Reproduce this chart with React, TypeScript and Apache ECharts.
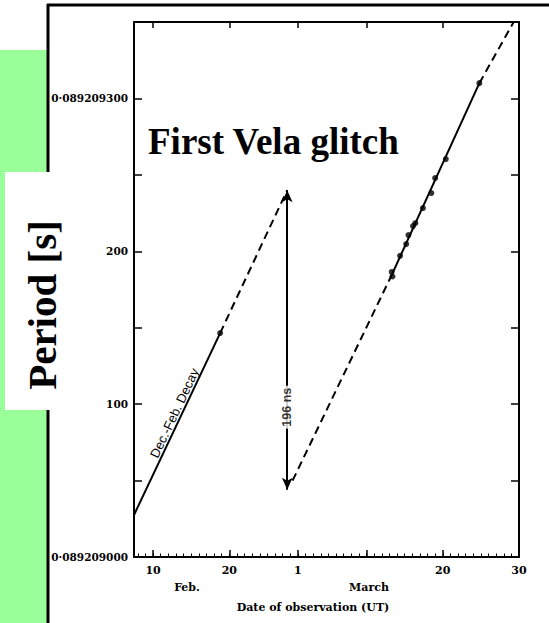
import React, { useEffect, useRef } from 'react';
import * as echarts from 'echarts';

// Time axis: days counted from 0 Feb 1969 (1 March = day 29).
const dayMin = 7.5;
const dayMax = 58;
const dayMajorTicks = [10, 20, 29, 38, 48];
const dayMinorTicks = Array.from({ length: 50 }, (_, i) => 8 + i);
const dayLabelValues = [10, 20, 29, 48, 58];
const dayLabelTexts = ['10', '20', '1', '20', '30'];

// Period axis: ns above 0.089209000 s.
const periodMin = 0;
const periodMax = 350;
const periodTickValues = [50, 100, 150, 200, 250, 300];
const periodLabelValues = [0, 100, 200, 300];
const periodLabelTexts = ['0·089209000', '100', '200', '0·089209300'];

// Observations [day, ns]
const preGlitchObs = [[18.8, 146.5]];
const postGlitchObs = [
  [41.3, 186.5],
  [41.4, 183.5],
  [42.4, 197],
  [43.2, 204.7],
  [43.5, 210.6],
  [44.1, 216.5],
  [44.4, 218.4],
  [45.4, 228.3],
  [46.5, 238.1],
  [47.0, 247.9],
  [48.4, 260.3],
  [52.8, 310],
];

// Fitted spin-down lines
const decaySolid = [[7.5, 27.5], [18.8, 146.5]];
const decayDashed = [[18.8, 146.5], [27.6, 240]];
const recoveryDashedLow = [[28.3, 50], [41.35, 185]];
const recoverySolid = [[41.35, 185], [52.8, 310]];
const recoveryDashedHigh = [[52.8, 310], [57.3, 350]];

// Glitch step
const glitchDay = 27.6;
const glitchTop = 240;
const glitchDrop = 196;
const glitchLabelAt = 98;

const FONT_SERIF = "'DejaVu Serif', serif";
const FONT_TIMES = "'Liberation Serif', 'Times New Roman', serif";
const FONT_SANS = "'Liberation Sans', Arial, sans-serif";

const dash = [8, 5];

function fitLine(data: number[][], dashed: boolean) {
  return {
    type: 'line',
    data,
    showSymbol: false,
    silent: true,
    z: 3,
    lineStyle: { color: '#000', width: 2, type: dashed ? dash : 'solid' },
  };
}

export default function App() {
  const ref = useRef<HTMLDivElement>(null);

  useEffect(() => {
    if (!ref.current) return;
    const chart = echarts.init(ref.current, null, { renderer: 'svg' });

    const dayLabel = (v: number) => {
      const i = dayLabelValues.indexOf(Math.round(v));
      return i >= 0 ? dayLabelTexts[i] : '';
    };
    const periodLabel = (v: number) => {
      const i = periodLabelValues.indexOf(Math.round(v));
      return i >= 0 ? periodLabelTexts[i] : '';
    };

    chart.setOption({
      animation: false,
      backgroundColor: '#fff',
      grid: { left: 134, right: 30, top: 22, bottom: 66, containLabel: false },
      xAxis: [
        {
          type: 'value',
          position: 'bottom',
          min: dayMin,
          max: dayMax,
          axisLine: { show: true, lineStyle: { color: '#000', width: 2 } },
          axisTick: {
            show: true,
            inside: true,
            length: 7,
            customValues: dayMajorTicks,
            lineStyle: { color: '#000', width: 1.5 },
          },
          axisLabel: {
            show: true,
            customValues: dayLabelValues,
            formatter: dayLabel,
            color: '#000',
            fontFamily: FONT_SERIF,
            fontWeight: 'bold',
            fontSize: 11,
            margin: 8,
          },
          splitLine: { show: false },
        },
        {
          type: 'value',
          position: 'bottom',
          min: dayMin,
          max: dayMax,
          axisLine: { show: false },
          axisTick: {
            show: true,
            inside: true,
            length: 3.5,
            customValues: dayMinorTicks,
            lineStyle: { color: '#000', width: 1 },
          },
          axisLabel: { show: false },
          splitLine: { show: false },
        },
        {
          type: 'value',
          position: 'top',
          min: dayMin,
          max: dayMax,
          axisLine: { show: true, lineStyle: { color: '#000', width: 2 } },
          axisTick: {
            show: true,
            inside: true,
            length: 6,
            customValues: dayMajorTicks,
            lineStyle: { color: '#000', width: 1.5 },
          },
          axisLabel: { show: false },
          splitLine: { show: false },
        },
      ],
      yAxis: [
        {
          type: 'value',
          position: 'left',
          min: periodMin,
          max: periodMax,
          axisLine: { show: true, lineStyle: { color: '#000', width: 2 } },
          axisTick: {
            show: true,
            inside: true,
            length: 8,
            customValues: periodTickValues,
            lineStyle: { color: '#000', width: 1.5 },
          },
          axisLabel: {
            show: true,
            customValues: periodLabelValues,
            formatter: periodLabel,
            color: '#000',
            fontFamily: FONT_SERIF,
            fontWeight: 'bold',
            fontSize: 10.5,
            margin: 6,
          },
          splitLine: { show: false },
        },
        {
          type: 'value',
          position: 'right',
          min: periodMin,
          max: periodMax,
          axisLine: { show: true, lineStyle: { color: '#000', width: 2 } },
          axisTick: {
            show: true,
            inside: true,
            length: 8,
            customValues: periodTickValues,
            lineStyle: { color: '#000', width: 1.5 },
          },
          axisLabel: { show: false },
          splitLine: { show: false },
        },
      ],
      series: [
        fitLine(decaySolid, false),
        fitLine(decayDashed, true),
        fitLine(recoveryDashedLow, true),
        fitLine(recoverySolid, false),
        fitLine(recoveryDashedHigh, true),
        {
          type: 'scatter',
          data: [...preGlitchObs, ...postGlitchObs],
          symbol: 'circle',
          symbolSize: 6,
          itemStyle: { color: '#000' },
          silent: true,
          z: 4,
        },
        {
          type: 'scatter',
          data: [[glitchDay, glitchTop]],
          symbolSize: 1,
          itemStyle: { color: 'rgba(0,0,0,0)' },
          silent: true,
          z: 2,
          markLine: {
            silent: true,
            symbol: ['arrow', 'arrow'],
            symbolSize: [8, 12],
            label: { show: false },
            lineStyle: { color: '#000', width: 2, type: 'solid' },
            emphasis: { disabled: true },
            data: [
              [
                { coord: [glitchDay, glitchTop] },
                { coord: [glitchDay, glitchTop - glitchDrop] },
              ],
            ],
          },
        },
        {
          type: 'scatter',
          data: [[glitchDay, glitchLabelAt]],
          symbolSize: 1,
          itemStyle: { color: 'rgba(0,0,0,0)' },
          silent: true,
          z: 10,
          label: {
            show: true,
            position: 'inside',
            rotate: 90,
            formatter: `${glitchDrop} ns`,
            color: '#000',
            fontFamily: FONT_SANS,
            fontWeight: 'bold',
            fontSize: 12.5,
            backgroundColor: '#fff',
            padding: [0, 2],
          },
        },
      ],
      graphic: [
        {
          type: 'rect',
          z: 0,
          silent: true,
          shape: { x: 0, y: 50, width: 47, height: 573 },
          style: { fill: '#99ff99' },
        },
        {
          type: 'line',
          z: 1,
          silent: true,
          shape: { x1: 47, y1: 5, x2: 549, y2: 5 },
          style: { stroke: '#000', lineWidth: 3 },
        },
        {
          type: 'line',
          z: 1,
          silent: true,
          shape: { x1: 48, y1: 4, x2: 48, y2: 623 },
          style: { stroke: '#000', lineWidth: 3 },
        },
        {
          type: 'rect',
          z: 2,
          silent: true,
          shape: { x: 5, y: 172, width: 46, height: 238 },
          style: { fill: '#fff' },
        },
        {
          type: 'text',
          z: 3,
          silent: true,
          x: 42,
          y: 305,
          rotation: Math.PI / 2,
          style: {
            text: 'Period [s]',
            fontFamily: FONT_TIMES,
            fontWeight: 'bold',
            fontSize: 41,
            fill: '#000',
            align: 'center',
            verticalAlign: 'middle',
          },
        },
        {
          type: 'text',
          z: 20,
          silent: true,
          x: 148,
          y: 141,
          style: {
            text: 'First Vela glitch',
            fontFamily: FONT_TIMES,
            fontWeight: 'bold',
            fontSize: 37,
            fill: '#000',
            align: 'left',
            verticalAlign: 'middle',
          },
        },
        {
          type: 'text',
          z: 20,
          silent: true,
          x: 174.5,
          y: 413,
          rotation: Math.atan2(182, 86),
          style: {
            text: 'Dec.-Feb. Decay',
            fontFamily: FONT_SANS,
            fontSize: 13,
            fill: '#000',
            align: 'center',
            verticalAlign: 'middle',
          },
        },
        {
          type: 'text',
          z: 20,
          silent: true,
          x: 187,
          y: 587,
          style: {
            text: 'Feb.',
            fontFamily: FONT_SERIF,
            fontWeight: 'bold',
            fontSize: 11,
            fill: '#000',
            align: 'center',
            verticalAlign: 'middle',
          },
        },
        {
          type: 'text',
          z: 20,
          silent: true,
          x: 369,
          y: 587,
          style: {
            text: 'March',
            fontFamily: FONT_SERIF,
            fontWeight: 'bold',
            fontSize: 11,
            fill: '#000',
            align: 'center',
            verticalAlign: 'middle',
          },
        },
        {
          type: 'text',
          z: 20,
          silent: true,
          x: 313,
          y: 607,
          style: {
            text: 'Date of observation (UT)',
            fontFamily: FONT_SERIF,
            fontWeight: 'bold',
            fontSize: 11,
            fill: '#000',
            align: 'center',
            verticalAlign: 'middle',
          },
        },
      ],
    });

    return () => chart.dispose();
  }, []);

  return (
    <div
      ref={ref}
      style={{ position: 'absolute', left: 0, top: 0, width: 549, height: 623 }}
    />
  );
}
